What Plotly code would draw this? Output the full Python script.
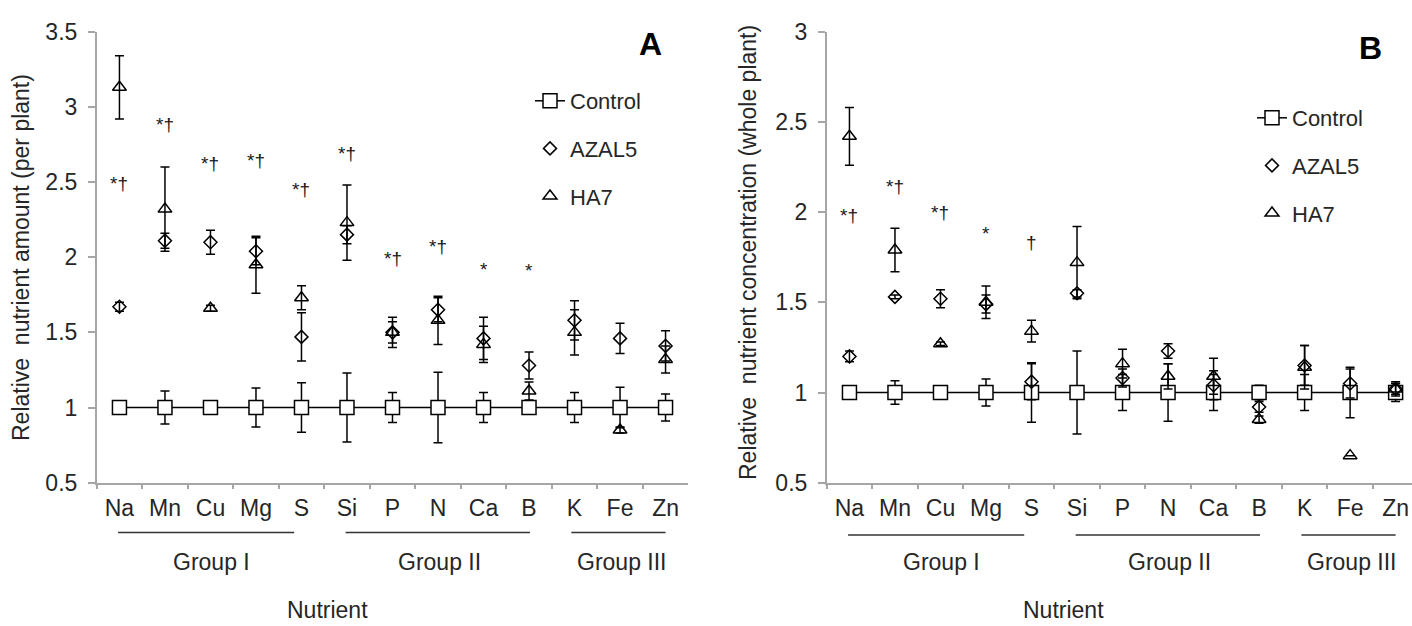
import plotly.graph_objects as go

nutrients = ["Na", "Mn", "Cu", "Mg", "S", "Si", "P", "N", "Ca", "B", "K", "Fe", "Zn"]
group_names = ["Group I", "Group II", "Group III"]
group_members = [["Na", "Mn", "Cu", "Mg", "S"],
                 ["Si", "P", "N", "Ca", "B"],
                 ["K", "Fe", "Zn"]]

# Panel A: relative nutrient amount (per plant)
a_control = [1.0] * 13
a_control_err = [0.01, 0.11, 0.01, 0.13, 0.165, 0.23, 0.10, 0.235, 0.10, 0.03, 0.10, 0.135, 0.09]
a_azal5 = [1.67, 2.11, 2.10, 2.04, 1.47, 2.15, 1.50, 1.65, 1.46, 1.28, 1.58, 1.46, 1.41]
a_azal5_err = [0.03, 0.05, 0.08, 0.09, 0.16, 0.06, 0.07, 0.08, 0.14, 0.09, 0.13, 0.10, 0.10]
a_ha7 = [3.13, 2.32, 1.66, 1.95, 1.73, 2.23, 1.50, 1.58, 1.42, 1.11, 1.50, 0.85, 1.32]
a_ha7_err = [0.21, 0.28, 0.02, 0.19, 0.08, 0.25, 0.10, 0.16, 0.12, 0.06, 0.15, 0.02, 0.09]
a_sig = ["*†", "*†", "*†", "*†", "*†", "*†", "*†", "*†", "*", "*", "", "", ""]
a_sig_y = [2.49, 2.88, 2.62, 2.64, 2.45, 2.69, 1.99, 2.07, 1.92, 1.91, None, None, None]

# Panel B: relative nutrient concentration (whole plant)
b_control = [1.0] * 13
b_control_err = [0.02, 0.065, 0.01, 0.075, 0.165, 0.23, 0.10, 0.16, 0.10, 0.04, 0.10, 0.14, 0.05]
b_azal5 = [1.20, 1.53, 1.52, 1.49, 1.06, 1.55, 1.08, 1.23, 1.04, 0.92, 1.15, 1.05, 1.02]
b_azal5_err = [0.03, 0.01, 0.05, 0.05, 0.10, 0.02, 0.05, 0.04, 0.08, 0.03, 0.11, 0.08, 0.03]
b_ha7 = [2.42, 1.79, 1.27, 1.50, 1.34, 1.72, 1.16, 1.09, 1.09, 0.85, 1.14, 0.65, 1.02]
b_ha7_err = [0.16, 0.12, 0.01, 0.09, 0.06, 0.20, 0.08, 0.07, 0.10, 0.02, 0.12, 0.0, 0.04]
b_sig = ["*†", "*†", "*†", "*", "†", "", "", "", "", "", "", "", ""]
b_sig_y = [1.98, 2.14, 2.00, 1.88, 1.83, None, None, None, None, None, None, None, None]

FONT = "Liberation Sans, Arial, sans-serif"
TXT = "#262626"
AX = "#a6a6a6"
W, H = 1412, 626
FS = 23

# layout of the group underline (category-index offsets from first / last member)
GROUP_LINE_PAD = [(-0.03, -0.16), (-0.03, 0.02), (-0.07, 0.0)]

fig = go.Figure()


def add_panel(xa, ya, legend, ctrl, ctrl_e, az, az_e, ha, ha_e):
    fig.add_trace(go.Scatter(
        x=nutrients, y=ctrl, mode="lines+markers", name="Control",
        xaxis=xa, yaxis=ya, legend=legend, legendgroup=legend + "c",
        line=dict(color="black", width=1.5),
        marker=dict(symbol="square", size=14, color="white", line=dict(color="black", width=1.5)),
        error_y=dict(type="data", array=ctrl_e, color="black", thickness=1.5, width=4.5)))
    fig.add_trace(go.Scatter(
        x=nutrients, y=az, mode="markers", name="AZAL5",
        xaxis=xa, yaxis=ya, legend=legend, legendgroup=legend + "a",
        marker=dict(symbol="diamond-open", size=10, color="black", line=dict(color="black", width=1.5)),
        error_y=dict(type="data", array=az_e, color="black", thickness=1.5, width=4.5)))
    fig.add_trace(go.Scatter(
        x=nutrients, y=ha, mode="markers", name="HA7",
        xaxis=xa, yaxis=ya, legend=legend, legendgroup=legend + "h",
        marker=dict(symbol="triangle-up-open", size=12, color="black", line=dict(color="black", width=1.5)),
        error_y=dict(type="data", array=ha_e, color="black", thickness=1.5, width=4.5)))


add_panel("x", "y", "legend", a_control, a_control_err, a_azal5, a_azal5_err, a_ha7, a_ha7_err)
add_panel("x2", "y2", "legend2", b_control, b_control_err, b_azal5, b_azal5_err, b_ha7, b_ha7_err)

for xa, ya, sig, sig_y in (("x", "y", a_sig, a_sig_y), ("x2", "y2", b_sig, b_sig_y)):
    for n, s, yv in zip(nutrients, sig, sig_y):
        if s:
            fig.add_annotation(x=n, y=yv, xref=xa, yref=ya, text=s, showarrow=False,
                               xanchor="center", yanchor="middle",
                               font=dict(family=FONT, size=19, color="#1a1a1a"))

# group lines and labels
for xa, line_y in (("x", 1 - 532.5 / H), ("x2", 1 - 535 / H)):
    for gname, members, pad in zip(group_names, group_members, GROUP_LINE_PAD):
        idx = [nutrients.index(m) for m in members]
        fig.add_shape(type="line", xref=xa, yref="paper", x0=idx[0] + pad[0], x1=idx[-1] + pad[1],
                      y0=line_y, y1=line_y, line=dict(color="#333333", width=1.5))
        fig.add_annotation(x=sum(idx) / len(idx) + 0.03, y=1 - 562 / H, xref=xa, yref="paper",
                           text=gname, showarrow=False, xanchor="center", yanchor="middle",
                           font=dict(family=FONT, size=FS, color=TXT))

common_x = dict(type="category", showline=True, linecolor=AX, linewidth=1.5, ticks="outside",
                tickson="boundaries", ticklen=5, tickcolor=AX, tickwidth=1.5, showgrid=False,
                zeroline=False, tickfont=dict(family=FONT, size=FS, color=TXT), ticklabelstandoff=4,
                automargin=False)
common_y = dict(showline=True, linecolor=AX, linewidth=1.5, ticks="outside", ticklen=7, tickcolor=AX,
                tickwidth=1.5, showgrid=False, zeroline=False, dtick=0.5, ticklabelstandoff=6,
                tickfont=dict(family=FONT, size=FS, color=TXT), automargin=False)

fig.update_layout(
    width=W, height=H, margin=dict(l=0, r=0, t=0, b=0, pad=0, autoexpand=False),
    paper_bgcolor="white", plot_bgcolor="white",
    xaxis=dict(domain=[96.7 / W, 688.3 / W], range=[-0.5, 12.5], anchor="y", **common_x),
    yaxis=dict(domain=[1 - 482.7 / H, 1 - 31.7 / H], range=[0.5, 3.5], anchor="x", **common_y),
    xaxis2=dict(domain=[826.7 / W, 1.0], range=[-0.5, 12.36], anchor="y2", **common_x),
    yaxis2=dict(domain=[1 - 482.7 / H, 1 - 31.7 / H], range=[0.5, 3.0], anchor="x2", **common_y),
    legend=dict(x=530 / W, y=1 - 80 / H, xanchor="left", yanchor="top", traceorder="grouped",
                tracegroupgap=16, bgcolor="rgba(0,0,0,0)",
                font=dict(family=FONT, size=22, color=TXT)),
    legend2=dict(x=1252 / W, y=1 - 97 / H, xanchor="left", yanchor="top", traceorder="grouped",
                 tracegroupgap=16, bgcolor="rgba(0,0,0,0)",
                 font=dict(family=FONT, size=22, color=TXT)),
)

# panel letters
fig.add_annotation(x=650 / W, y=1 - 44 / H, xref="paper", yref="paper", text="<b>A</b>", showarrow=False,
                   xanchor="center", yanchor="middle", font=dict(family=FONT, size=32, color="black"))
fig.add_annotation(x=1370 / W, y=1 - 48 / H, xref="paper", yref="paper", text="<b>B</b>", showarrow=False,
                   xanchor="center", yanchor="middle", font=dict(family=FONT, size=32, color="black"))

# axis titles
fig.add_annotation(x=21 / W, y=1 - 258 / H, xref="paper", yref="paper",
                   text="Relative  nutrient amount (per plant)", textangle=-90, showarrow=False,
                   xanchor="center", yanchor="middle", font=dict(family=FONT, size=FS, color=TXT))
fig.add_annotation(x=748 / W, y=1 - 253 / H, xref="paper", yref="paper",
                   text="Relative  nutrient concentration (whole plant)", textangle=-90, showarrow=False,
                   xanchor="center", yanchor="middle", font=dict(family=FONT, size=FS, color=TXT))
fig.add_annotation(x=327 / W, y=1 - 610 / H, xref="paper", yref="paper", text="Nutrient",
                   showarrow=False, xanchor="center", yanchor="middle",
                   font=dict(family=FONT, size=FS, color=TXT))
fig.add_annotation(x=1063 / W, y=1 - 610 / H, xref="paper", yref="paper", text="Nutrient",
                   showarrow=False, xanchor="center", yanchor="middle",
                   font=dict(family=FONT, size=FS, color=TXT))

fig.write_html("out.html", config={"displayModeBar": False},
               post_script="document.body.style.margin='0px';")
